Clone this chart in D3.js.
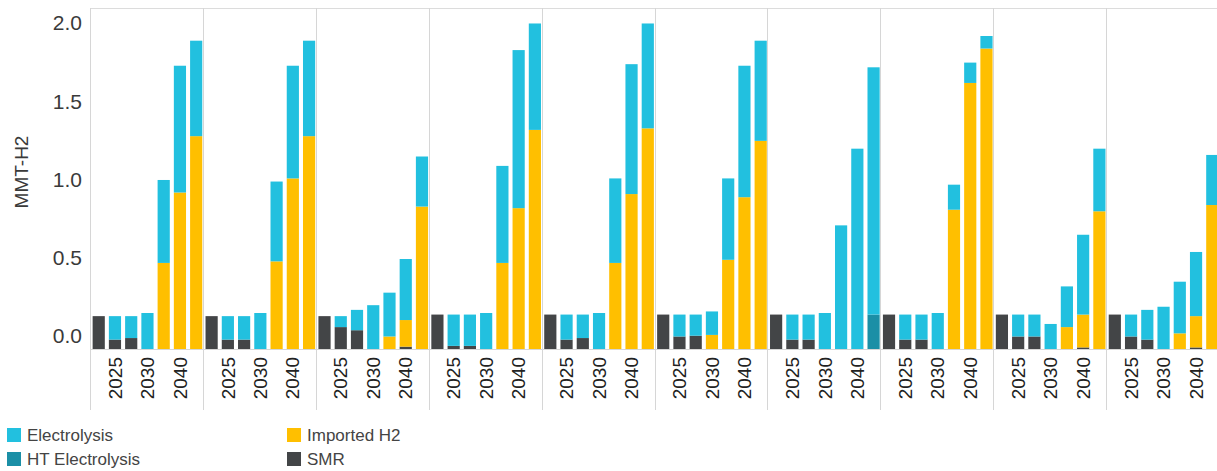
<!DOCTYPE html>
<html>
<head>
<meta charset="utf-8">
<script src="https://cdn.jsdelivr.net/npm/d3@7"></script>
<style>
  body { margin: 0; background: #fff; }
  svg { display: block; font-family: "Liberation Sans", Arial, sans-serif; }
</style>
</head>
<body>
<div id="main"></div>
<script>
// one row per panel (10 panels), one value per year bar (7 bars)
var years = ['2020', '2025', '2028', '2030', '2035', '2040', '2045'];
var shownYears = ['2025', '2030', '2040'];
var panels = ['p1', 'p2', 'p3', 'p4', 'p5', 'p6', 'p7', 'p8', 'p9', 'p10'];
var yTicks = [0, 0.5, 1.0, 1.5, 2.0];

var smr = [
  [0.21, 0.06, 0.07, 0, 0, 0, 0],
  [0.21, 0.06, 0.06, 0, 0, 0, 0],
  [0.21, 0.14, 0.12, 0, 0, 0.015, 0],
  [0.22, 0.02, 0.02, 0, 0, 0, 0],
  [0.22, 0.06, 0.07, 0, 0, 0, 0],
  [0.22, 0.08, 0.085, 0, 0, 0, 0],
  [0.22, 0.06, 0.06, 0, 0, 0, 0],
  [0.22, 0.06, 0.06, 0, 0, 0, 0],
  [0.22, 0.08, 0.08, 0, 0, 0.01, 0],
  [0.22, 0.08, 0.06, 0, 0, 0.01, 0]
];
var htElectrolysis = [
  [0, 0, 0, 0, 0, 0, 0],
  [0, 0, 0, 0, 0, 0, 0],
  [0, 0, 0, 0, 0, 0, 0],
  [0, 0, 0, 0, 0, 0, 0],
  [0, 0, 0, 0, 0, 0, 0],
  [0, 0, 0, 0, 0, 0, 0],
  [0, 0, 0, 0, 0, 0, 0.22],
  [0, 0, 0, 0, 0, 0, 0],
  [0, 0, 0, 0, 0, 0, 0],
  [0, 0, 0, 0, 0, 0, 0]
];
var imported = [
  [0, 0, 0, 0, 0.55, 1.00, 1.36],
  [0, 0, 0, 0, 0.56, 1.09, 1.36],
  [0, 0, 0, 0, 0.08, 0.17, 0.91],
  [0, 0, 0, 0, 0.55, 0.90, 1.40],
  [0, 0, 0, 0, 0.55, 0.99, 1.41],
  [0, 0, 0, 0.09, 0.57, 0.97, 1.33],
  [0, 0, 0, 0, 0, 0, 0],
  [0, 0, 0, 0, 0.89, 1.70, 1.92],
  [0, 0, 0, 0, 0.14, 0.21, 0.88],
  [0, 0, 0, 0, 0.10, 0.20, 0.92]
];
var electrolysis = [
  [0, 0.15, 0.14, 0.23, 0.53, 0.81, 0.61],
  [0, 0.15, 0.15, 0.23, 0.51, 0.72, 0.61],
  [0, 0.07, 0.13, 0.28, 0.28, 0.39, 0.32],
  [0, 0.20, 0.20, 0.23, 0.62, 1.01, 0.68],
  [0, 0.16, 0.15, 0.23, 0.54, 0.83, 0.67],
  [0, 0.14, 0.135, 0.15, 0.52, 0.84, 0.64],
  [0, 0.16, 0.16, 0.23, 0.79, 1.28, 1.58],
  [0, 0.16, 0.16, 0.23, 0.16, 0.13, 0.08],
  [0, 0.14, 0.14, 0.16, 0.26, 0.51, 0.40],
  [0, 0.14, 0.19, 0.27, 0.33, 0.41, 0.32]
];

var keys = ['SMR', 'HT Electrolysis', 'Imported H2', 'Electrolysis'];
var colors = {
  'Electrolysis': '#22c0df',
  'HT Electrolysis': '#1b8fa6',
  'Imported H2': '#ffbf00',
  'SMR': '#434547'
};

var width = 1217;
var height = 471;
var top_y = 8;
var base_y = 349;
var bottom_y = 410;

var svg = d3.select('#main').append('svg').attr('width', width).attr('height', height);

var xPanel = d3.scaleBand().domain(panels).range([91, 1220]).padding(0);
var xYear = d3.scaleBand().domain(years).range([0, xPanel.bandwidth()])
  .paddingInner(0.25).paddingOuter(0.1);
var y = d3.scaleLinear().domain([0, 2]).range([base_y, 36]);

// frame
svg.append('line')
  .attr('x1', 91).attr('x2', width)
  .attr('y1', top_y + 0.5).attr('y2', top_y + 0.5)
  .attr('stroke', '#dcdcdc');
svg.append('line')
  .attr('x1', 91).attr('x2', width)
  .attr('y1', base_y + 0.5).attr('y2', base_y + 0.5)
  .attr('stroke', '#d6d6d6');
svg.selectAll('.sep')
  .data(panels)
  .enter()
  .append('line')
  .attr('class', 'sep')
  .attr('x1', function (d) { return Math.round(xPanel(d)) - 0.5; })
  .attr('x2', function (d) { return Math.round(xPanel(d)) - 0.5; })
  .attr('y1', top_y).attr('y2', bottom_y)
  .attr('stroke', '#d6d6d6');

// y axis labels (text sits a little above the value line, like the source)
svg.selectAll('.ytick')
  .data(yTicks)
  .enter()
  .append('text')
  .attr('class', 'ytick')
  .attr('x', 82)
  .attr('y', function (d) { return y(d) - 13; })
  .attr('dy', '0.35em')
  .attr('text-anchor', 'end')
  .attr('font-size', 21)
  .attr('fill', '#3a3a3a')
  .text(function (d) { return d3.format('.1f')(d); });

svg.append('text')
  .attr('transform', 'translate(28,172) rotate(-90)')
  .attr('text-anchor', 'middle')
  .attr('font-size', 19)
  .attr('fill', '#3a3a3a')
  .text('MMT-H2');

// bars
panels.forEach(function (p, pi) {
  var rows = years.map(function (yr, i) {
    return {
      year: yr,
      'SMR': smr[pi][i],
      'HT Electrolysis': htElectrolysis[pi][i],
      'Imported H2': imported[pi][i],
      'Electrolysis': electrolysis[pi][i]
    };
  });
  var series = d3.stack().keys(keys)(rows);

  var g = svg.append('g').attr('transform', 'translate(' + xPanel(p) + ',0)');

  g.selectAll('.layer')
    .data(series)
    .enter()
    .append('g')
    .attr('fill', function (d) { return colors[d.key]; })
    .selectAll('rect')
    .data(function (d) { return d; })
    .enter()
    .append('rect')
    .attr('x', function (d) { return xYear(d.data.year); })
    .attr('width', xYear.bandwidth())
    .attr('y', function (d) { return y(d[1]); })
    .attr('height', function (d) { return Math.max(0, y(d[0]) - y(d[1])); });

  g.selectAll('.xlab')
    .data(shownYears)
    .enter()
    .append('text')
    .attr('transform', function (d) {
      return 'translate(' + (xYear(d) + xYear.bandwidth() / 2) + ',357) rotate(-90)';
    })
    .attr('text-anchor', 'end')
    .attr('dy', '0.35em')
    .attr('font-size', 19)
    .attr('fill', '#222')
    .text(function (d) { return d; });
});

// legend
var legendItems = [
  { name: 'Electrolysis', col: 0, row: 0 },
  { name: 'HT Electrolysis', col: 0, row: 1 },
  { name: 'Imported H2', col: 1, row: 0 },
  { name: 'SMR', col: 1, row: 1 }
];
var leg = svg.selectAll('.leg')
  .data(legendItems)
  .enter()
  .append('g')
  .attr('transform', function (d) {
    return 'translate(' + (d.col ? 287 : 7) + ',' + (435 + d.row * 24) + ')';
  });
leg.append('rect')
  .attr('x', 0).attr('y', -7)
  .attr('width', 14).attr('height', 14)
  .attr('fill', function (d) { return colors[d.name]; });
leg.append('text')
  .attr('x', 20)
  .attr('dy', '0.36em')
  .attr('font-size', 17)
  .attr('fill', '#444')
  .text(function (d) { return d.name; });
</script>
</body>
</html>
